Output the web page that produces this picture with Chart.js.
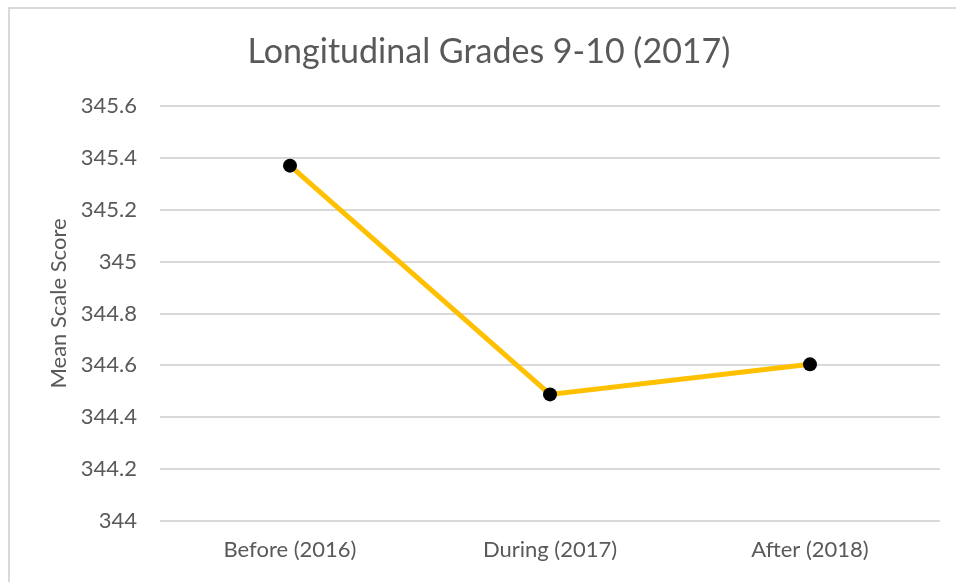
<!DOCTYPE html>
<html>
<head>
<meta charset="utf-8">
<script src="https://cdn.jsdelivr.net/npm/chart.js@4.4.1/dist/chart.umd.min.js"></script>
<style>
  html, body { margin: 0; padding: 0; background: #ffffff; }
  #wrap { position: relative; width: 956px; height: 582px; overflow: hidden; }
  #frame { position: absolute; left: 8px; top: 7px; width: 960px; height: 600px;
           border-left: 2px solid #d9d9d9; border-top: 2px solid #d9d9d9; pointer-events: none; }
  canvas { position: absolute; left: 0; top: 0; }
</style>
</head>
<body>
<div id="wrap">
  <canvas id="c" width="956" height="582"></canvas>
  <div id="frame"></div>
</div>
<script>
const chartTitle = "Longitudinal Grades 9-10 (2017)";
const yAxisTitle = "Mean Scale Score";
const categories = ["Before (2016)", "During (2017)", "After (2018)"];
const meanScores = [345.37, 344.488, 344.604];
const yMin = 344, yMax = 345.6, yStep = 0.2;

const textColor = "#595959";
const fontFamily = "Lato, 'Open Sans', sans-serif";

const yTitlePlugin = {
  id: "yTitle",
  afterDraw(chart) {
    const { ctx, chartArea } = chart;
    ctx.save();
    ctx.fillStyle = textColor;
    ctx.font = "22px " + fontFamily;
    ctx.textAlign = "center";
    ctx.textBaseline = "middle";
    ctx.translate(59, (chartArea.top + chartArea.bottom) / 2 - 10);
    ctx.rotate(-Math.PI / 2);
    ctx.fillText(yAxisTitle, 0, 0);
    ctx.restore();
  }
};

new Chart(document.getElementById("c"), {
  type: "line",
  data: {
    labels: categories,
    datasets: [{
      data: meanScores,
      borderColor: "#FFC000",
      borderWidth: 5,
      pointBackgroundColor: "#000000",
      pointBorderColor: "#000000",
      pointRadius: 7,
      pointBorderWidth: 0,
      tension: 0
    }]
  },
  plugins: [yTitlePlugin],
  options: {
    responsive: false,
    animation: false,
    layout: { padding: { left: 38, right: 16, top: 0, bottom: 0 } },
    plugins: {
      legend: { display: false },
      tooltip: { enabled: false },
      title: {
        display: true,
        text: chartTitle,
        color: textColor,
        font: { family: fontFamily, size: 34, weight: "normal" },
        padding: { top: 32, bottom: 33.2 }
      }
    },
    scales: {
      x: {
        offset: true,
        grid: { display: false, drawTicks: false },
        border: { display: false },
        ticks: { color: textColor, font: { family: fontFamily, size: 22 }, padding: 16, maxRotation: 0 },
        afterFit: (s) => { s.height = 61; }
      },
      y: {
        min: yMin,
        max: yMax,
        ticks: {
          stepSize: yStep,
          color: textColor,
          font: { family: fontFamily, size: 22 },
          padding: 23,
          callback: (v) => String(Math.round(v * 10) / 10)
        },
        grid: { color: "#d9d9d9", lineWidth: 2, drawTicks: false },
        border: { display: false },
        title: { display: false },
        afterFit: (s) => { s.width = 122; }
      }
    }
  }
});
</script>
</body>
</html>
